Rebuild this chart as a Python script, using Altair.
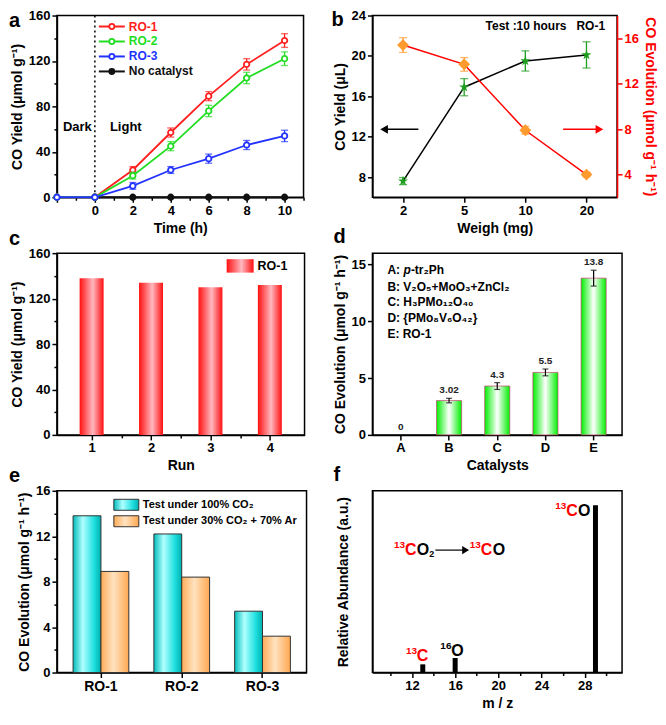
import altair as alt
import pandas as pd

FONT = "Liberation Sans"
H = 182
WA, WB, WC, WD, WE, WF = 247, 245, 248, 250, 250, 250

# ---------------- data ----------------
# (a) CO yield vs time
time_a = [-2, 0, 2, 4, 6, 8, 10]
ro1_yield = [0, 0, 24, 57, 89, 117, 138]
ro1_err = [0, 0, 3, 4, 4, 5, 6]
ro2_yield = [0, 0, 19, 45, 76, 105, 122]
ro2_err = [0, 0, 3, 4, 5, 5, 6]
ro3_yield = [0, 0, 10, 24, 34, 46, 54]
ro3_err = [0, 0, 3, 3, 4, 4, 5]
time_nc = [0, 2, 4, 6, 8, 10]
nc_yield = [0, 0, 0, 0, 0, 0]
nc_err = [0, 0, 0, 0, 0, 0]
series_a = ["RO-1", "RO-2", "RO-3", "No catalyst"]
colors_a = ["#ff2020", "#22dd22", "#2233ff", "#111111"]

# (b) weight dependence
weights = ["2", "5", "10", "20"]
yield_ul = [7.6, 16.9, 19.5, 20.1]
yield_ul_err = [0.35, 0.85, 1.0, 1.3]
evolution_b = [15.4, 13.7, 7.9, 4.0]
evolution_b_err = [0.65, 0.6, 0.35, 0.2]

# (c) recycling runs
runs = [1, 2, 3, 4]
run_yield = [138, 134, 130, 132]

# (d) catalysts
catalysts = ["A", "B", "C", "D", "E"]
cat_evol = [0, 3.02, 4.3, 5.5, 13.8]
cat_err = [0, 0.2, 0.3, 0.3, 0.7]
cat_labels = ["0", "3.02", "4.3", "5.5", "13.8"]

# (e) CO2 concentration
samples = ["RO-1", "RO-2", "RO-3"]
evol_100 = [13.8, 12.2, 5.4]
evol_30 = [8.9, 8.4, 3.2]
conditions = ["Test under 100% CO₂", "Test under 30% CO₂ + 70% Ar"]

# (f) isotope MS
mz = [13, 16, 29]
abundance = [4.5, 8, 92]

# ---------------- helpers ----------------
one = pd.DataFrame({"k": [0]})


def qaxis(title, values, label_test, major_test, **kw):
    return alt.Axis(title=title, values=values,
                    labelExpr=f"({label_test}) ? format(datum.value, '~g') : ''",
                    tickSize={"condition": {"test": major_test, "value": 5}, "value": 3},
                    **kw)


def txt(text, x, y, size=13, color="black", align="left", baseline="middle",
        style="normal", weight="bold"):
    return alt.Chart(one).mark_text(text=text, fontSize=size, font=FONT, fontWeight=weight,
                                    fontStyle=style, color=color, align=align,
                                    baseline=baseline).encode(x=alt.value(x), y=alt.value(y))


def seg(x1, x2, y, color="black", w=1.5):
    return alt.Chart(one).mark_rule(color=color, strokeWidth=w).encode(
        x=alt.value(x1), x2=alt.value(x2), y=alt.value(y))


def pt(x, y, shape, color, size, fill=None, sw=1.5):
    return alt.Chart(one).mark_point(shape=shape, filled=True, fill=fill or color, stroke=color,
                                     strokeWidth=sw, size=size, opacity=1).encode(
        x=alt.value(x), y=alt.value(y))


def box(x1, x2, y1, y2, fill, stroke=None):
    kw = dict(fill=fill)
    if stroke:
        kw.update(stroke=stroke, strokeWidth=1)
    return alt.Chart(one).mark_rect(**kw).encode(
        x=alt.value(x1), x2=alt.value(x2), y=alt.value(y1), y2=alt.value(y2))


def iso(mass, x, y, tail="", mass_color="black", tail_color="black", sub=""):
    """isotope label: small raised mass number + element letters (+ optional subscript)"""
    out = [txt(mass, x, y - 5, size=10, color=mass_color),
           txt("C" if mass == "13" else "O", x + 11, y, size=16, color=mass_color)]
    if tail:
        out.append(txt(tail, x + 23, y, size=16, color=tail_color))
    if sub:
        out.append(txt(sub, x + 35.5, y + 4, size=9, color=tail_color))
    return out


def grad(stops):
    return alt.LinearGradient(gradient="linear",
                              stops=[alt.GradientStop(color=c, offset=o) for o, c in stops],
                              x1=0, x2=1, y1=0, y2=0)


red_grad = grad([(0, "#ff1010"), (0.55, "#ffb8c0"), (1, "#ff1010")])
green_grad = grad([(0, "#00f000"), (0.5, "#ffffff"), (1, "#00f000")])
cyan_grad = grad([(0, "#00bcbc"), (0.35, "#b0ffff"), (0.75, "#20e0e0"), (1, "#00b0b0")])
orange_grad = grad([(0, "#ffac58"), (0.45, "#ffe2c0"), (1, "#ffa850")])

# ---------------- panel a ----------------
xa_axis = qaxis("Time (h)", list(range(-2, 12)),
                "datum.value >= 0 && datum.value % 2 == 0", "datum.value % 2 == 0")
ya_axis = qaxis("CO Yield (μmol g⁻¹)", list(range(0, 161, 20)),
                "datum.value % 40 == 0", "datum.value % 40 == 0")
xa_scale = alt.Scale(domain=[-2, 11], nice=False, zero=False)
ya_scale = alt.Scale(domain=[0, 160], nice=False)


def XA(f):
    return alt.X(f, type="quantitative", scale=xa_scale, axis=xa_axis)


def YA(f):
    return alt.Y(f, type="quantitative", scale=ya_scale, axis=ya_axis)


layers_a = [alt.Chart(pd.DataFrame({"t": [0]})).mark_rule(
    color="black", strokeWidth=1.5, strokeDash=[2, 3]).encode(x=XA("t"))]

series_data = {
    "No catalyst": (time_nc, nc_yield, nc_err),
    "RO-1": (time_a, ro1_yield, ro1_err),
    "RO-2": (time_a, ro2_yield, ro2_err),
    "RO-3": (time_a, ro3_yield, ro3_err),
}
for name in ["No catalyst", "RO-1", "RO-2", "RO-3"]:
    t, v, e = series_data[name]
    c = colors_a[series_a.index(name)]
    df = pd.DataFrame({"t": t, "v": v, "e": e,
                       "lo": [a - b for a, b in zip(v, e)],
                       "hi": [a + b for a, b in zip(v, e)]})
    dfe = df[df.e > 0]
    layers_a.append(alt.Chart(df).mark_line(color=c, strokeWidth=1.8).encode(x=XA("t"), y=YA("v")))
    if len(dfe):
        layers_a.append(alt.Chart(dfe).mark_rule(color=c, strokeWidth=1.3).encode(
            x=XA("t"), y=YA("lo"), y2="hi"))
        for f in ["lo", "hi"]:
            layers_a.append(alt.Chart(dfe).mark_tick(color=c, orient="horizontal", size=7,
                                                     thickness=1.3).encode(x=XA("t"), y=YA(f)))
    fillc = c if name == "No catalyst" else "white"
    layers_a.append(alt.Chart(df).mark_point(shape="circle", filled=True, fill=fillc, stroke=c,
                                             strokeWidth=1.8, size=30, opacity=1).encode(
        x=XA("t"), y=YA("v")))

df_dl = pd.DataFrame({"t": [-0.92, 1.63], "v": [62, 62], "lab": ["Dark", "Light"]})
layers_a.append(alt.Chart(df_dl).mark_text(fontSize=13, fontWeight="bold", font=FONT,
                                           color="black").encode(x=XA("t"), y=YA("v"), text="lab:N"))
for i, (name, c) in enumerate(zip(series_a, colors_a)):
    yy = 11 + 15 * i
    layers_a.append(seg(42, 68, yy, c, 2))
    layers_a.append(pt(55, yy, "circle", c, 26, fill=(c if i == 3 else "white"), sw=1.8))
    layers_a.append(txt(name, 72, yy, size=12, color=c))
layers_a.append(txt("a", -48, 11, size=20, baseline="alphabetic"))
pa = alt.layer(*layers_a).properties(width=WA, height=H)

# ---------------- panel b ----------------
df_b = pd.DataFrame({
    "w": weights, "y": yield_ul,
    "ylo": [a - b for a, b in zip(yield_ul, yield_ul_err)],
    "yhi": [a + b for a, b in zip(yield_ul, yield_ul_err)],
    "e": evolution_b,
    "elo": [a - b for a, b in zip(evolution_b, evolution_b_err)],
    "ehi": [a + b for a, b in zip(evolution_b, evolution_b_err)],
})
xb = alt.X("w:O", sort=weights, scale=alt.Scale(type="point", padding=0.5),
           axis=alt.Axis(title="Weigh (mg)", labelAngle=0, tickSize=5))
yl_axis = alt.Axis(title="CO Yield (μL)", values=[8, 12, 16, 20, 24], tickSize=5)
yr_axis = alt.Axis(title="CO Evolution (μmol g⁻¹ h⁻¹)", orient="right", values=[4, 8, 12, 16],
                   tickSize=5, labelColor="red", titleColor="red", domainColor="red", tickColor="red")


def YL(f):
    return alt.Y(f, type="quantitative", scale=alt.Scale(domain=[6, 24], nice=False, zero=False),
                 axis=yl_axis)


def YR(f):
    return alt.Y(f, type="quantitative", scale=alt.Scale(domain=[2, 18], nice=False, zero=False),
                 axis=yr_axis)


star = "M0,-1L0.2245,-0.309L0.951,-0.309L0.363,0.118L0.588,0.809L0,0.382L-0.588,0.809L-0.363,0.118L-0.951,-0.309L-0.2245,-0.309Z"
bb = alt.Chart(df_b)
left_b = [
    bb.mark_line(color="black", strokeWidth=1.5).encode(x=xb, y=YL("y")),
    bb.mark_rule(color="#1e9e1e", strokeWidth=1.3).encode(x=xb, y=YL("ylo"), y2="yhi"),
    bb.mark_tick(color="#1e9e1e", orient="horizontal", size=8, thickness=1.3).encode(x=xb, y=YL("ylo")),
    bb.mark_tick(color="#1e9e1e", orient="horizontal", size=8, thickness=1.3).encode(x=xb, y=YL("yhi")),
    bb.mark_point(shape=star, filled=True, color="#1e9e1e", size=110, opacity=1).encode(x=xb, y=YL("y")),
    txt("Test :10 hours\u00a0\u00a0\u00a0RO-1", 233, 10, size=12, align="right"),
    seg(14, 46, 114, "black", 1.5), pt(12, 114, "triangle-left", "black", 40),
    seg(191, 224, 114, "red", 1.5), pt(227, 114, "triangle-right", "red", 40),
    txt("b", -41, 10, size=20, baseline="alphabetic"),
]
right_b = [
    bb.mark_line(color="red", strokeWidth=1.5).encode(x=xb, y=YR("e")),
    bb.mark_rule(color="#ff9a2e", strokeWidth=1.3).encode(x=xb, y=YR("elo"), y2="ehi"),
    bb.mark_tick(color="#ff9a2e", orient="horizontal", size=8, thickness=1.3).encode(x=xb, y=YR("elo")),
    bb.mark_tick(color="#ff9a2e", orient="horizontal", size=8, thickness=1.3).encode(x=xb, y=YR("ehi")),
    bb.mark_point(shape="diamond", filled=True, color="#ff9a2e", size=140, opacity=1).encode(x=xb, y=YR("e")),
]
pb = alt.layer(alt.layer(*left_b), alt.layer(*right_b)).resolve_scale(y="independent").properties(
    width=WB, height=H)

# ---------------- panel c ----------------
df_c = pd.DataFrame({"run": runs, "v": run_yield})
xc = alt.X("run:Q", scale=alt.Scale(domain=[0.5, 4.5], nice=False, zero=False),
           axis=qaxis("Run", [1, 1.5, 2, 2.5, 3, 3.5, 4], "datum.value % 1 == 0", "datum.value % 1 == 0"))
yc = alt.Y("v:Q", scale=alt.Scale(domain=[0, 160], nice=False),
           axis=qaxis("CO Yield (μmol g⁻¹)", list(range(0, 161, 20)),
                      "datum.value % 40 == 0", "datum.value % 40 == 0"))
pc = alt.layer(
    alt.Chart(df_c).mark_bar(size=24, fill=red_grad).encode(x=xc, y=yc),
    box(170, 197, 6, 19.5, red_grad),
    txt("RO-1", 201, 13, size=12.5),
    txt("c", -48, -8, size=20, baseline="alphabetic"),
).properties(width=WC, height=H)

# ---------------- panel d ----------------
df_d = pd.DataFrame({"cat": catalysts, "v": cat_evol, "lab": cat_labels,
                     "lo": [a - b for a, b in zip(cat_evol, cat_err)],
                     "hi": [a + b for a, b in zip(cat_evol, cat_err)]})
df_de = df_d[df_d.hi > df_d.lo]
df_dbar = df_d[df_d.v > 0]
xd = alt.X("cat:N", sort=catalysts, scale=alt.Scale(domain=catalysts, paddingInner=0.48, paddingOuter=0.33),
           axis=alt.Axis(title="Catalysts", labelAngle=0, tickSize=5))


def YD(f):
    return alt.Y(f, type="quantitative", scale=alt.Scale(domain=[0, 16], nice=False),
                 axis=alt.Axis(title="CO Evolution (μmol g⁻¹ h⁻¹)", values=[0, 5, 10, 15], tickSize=5))


layers_d = [
    alt.Chart(df_dbar).mark_bar(fill=green_grad, stroke="#c04070", strokeWidth=0.7).encode(x=xd, y=YD("v")),
    alt.Chart(df_de).mark_rule(color="black", strokeWidth=1.2).encode(x=xd, y=YD("lo"), y2="hi"),
    alt.Chart(df_de).mark_tick(color="black", orient="horizontal", size=6, thickness=1.2).encode(x=xd, y=YD("lo")),
    alt.Chart(df_de).mark_tick(color="black", orient="horizontal", size=6, thickness=1.2).encode(x=xd, y=YD("hi")),
    alt.Chart(df_d).mark_text(fontSize=10, fontWeight="bold", font=FONT, color="#222222",
                              baseline="bottom", dy=-3).encode(x=xd, y=YD("hi"), text="lab:N"),
]
row_y = [17.3, 33.5, 49, 64.5, 80.5]
layers_d += [
    txt("A: ", 15, row_y[0], size=12),
    txt("p", 31, row_y[0], size=12, style="italic"),
    txt("-tr₂Ph", 38.5, row_y[0], size=12),
    txt("B: V₂O₅+MoO₃+ZnCl₂", 15, row_y[1], size=12),
    txt("C: H₃PMo₁₂O₄₀", 15, row_y[2], size=12),
    txt("D: {PMo₈V₆O₄₂}", 15, row_y[3], size=12),
    txt("E: RO-1", 15, row_y[4], size=12),
    txt("d", -39, -10, size=20, baseline="alphabetic"),
]
pd_ = alt.layer(*layers_d).properties(width=WD, height=H)

# ---------------- panel e ----------------
df_e1 = pd.DataFrame({"s": samples, "v": evol_100, "c": ["a"] * 3})
df_e2 = pd.DataFrame({"s": samples, "v": evol_30, "c": ["b"] * 3})
xe = alt.X("s:N", sort=samples, scale=alt.Scale(paddingInner=0.31, paddingOuter=0.2),
           axis=alt.Axis(title=None, labelAngle=0, labelFontSize=14, tickSize=5))
xoe = alt.XOffset("c:N", sort=["a", "b"], scale=alt.Scale(domain=["a", "b"], paddingInner=0, paddingOuter=0))
ye = alt.Y("v:Q", scale=alt.Scale(domain=[0, 16], nice=False),
           axis=qaxis("CO Evolution (μmol g⁻¹ h⁻¹)", list(range(0, 17, 2)),
                      "datum.value % 4 == 0", "datum.value % 4 == 0"))
pe = alt.layer(
    alt.Chart(df_e1).mark_bar(fill=cyan_grad, stroke="#333333", strokeWidth=1).encode(x=xe, xOffset=xoe, y=ye),
    alt.Chart(df_e2).mark_bar(fill=orange_grad, stroke="#333333", strokeWidth=1).encode(x=xe, xOffset=xoe, y=ye),
    box(57, 82, 8.5, 19.5, cyan_grad, "#333333"),
    box(57, 82, 25, 36, orange_grad, "#333333"),
    txt(conditions[0], 86, 14, size=11),
    txt(conditions[1], 86, 30.5, size=11),
    txt("e", -48, -9, size=20, baseline="alphabetic"),
).properties(width=WE, height=H)

# ---------------- panel f ----------------
df_f = pd.DataFrame({"mz": mz, "a": abundance})
xf = alt.X("mz:Q", scale=alt.Scale(domain=[8.8, 31], nice=False, zero=False),
           axis=qaxis("m / z", list(range(10, 31, 2)), "datum.value % 4 == 0", "datum.value % 4 == 0"))
yf = alt.Y("a:Q", scale=alt.Scale(domain=[0, 100], nice=False),
           axis=alt.Axis(title="Relative Abundance (a.u.)", labels=False, ticks=False, titlePadding=22))
layers_f = [alt.Chart(df_f).mark_bar(size=5, color="black").encode(x=xf, y=yf)]
layers_f += iso("13", 183, 20.4, tail="O", mass_color="red")
layers_f += iso("13", 21.5, 59.4, tail="O", mass_color="red", sub="2")
layers_f += [seg(63, 91, 59.4, "black", 1.2), pt(93, 59.4, "triangle-right", "black", 30)]
layers_f += iso("13", 97.4, 59.4, tail="O", mass_color="red")
layers_f += iso("13", 33.5, 165.4, mass_color="red")
layers_f += iso("16", 68, 160.5)
layers_f.append(txt("f", -39, -10, size=20, baseline="alphabetic"))
pf = alt.layer(*layers_f).properties(width=WF, height=H)

# ---------------- compose ----------------
chart = alt.concat(pa, pb, pc, pd_, pe, pf, columns=2,
                   spacing={"row": 56, "column": 66}, bounds="flush", align="all").properties(
    padding={"left": 0, "top": 0, "right": 0, "bottom": 0}
).configure_axis(
    labelFont=FONT, labelFontSize=13, labelFontWeight="bold", labelColor="black",
    titleFont=FONT, titleFontSize=14, titleFontWeight="bold", titleColor="black",
    domainColor="black", domainWidth=1.5, tickColor="black", tickWidth=1.5,
    grid=False, labelPadding=2, titlePadding=4, labelOverlap=False, labelFlush=False,
).configure_view(stroke="black", strokeWidth=1.5).configure_text(font=FONT)

chart.save("out.html", embed_options={"renderer": "svg", "actions": False})
